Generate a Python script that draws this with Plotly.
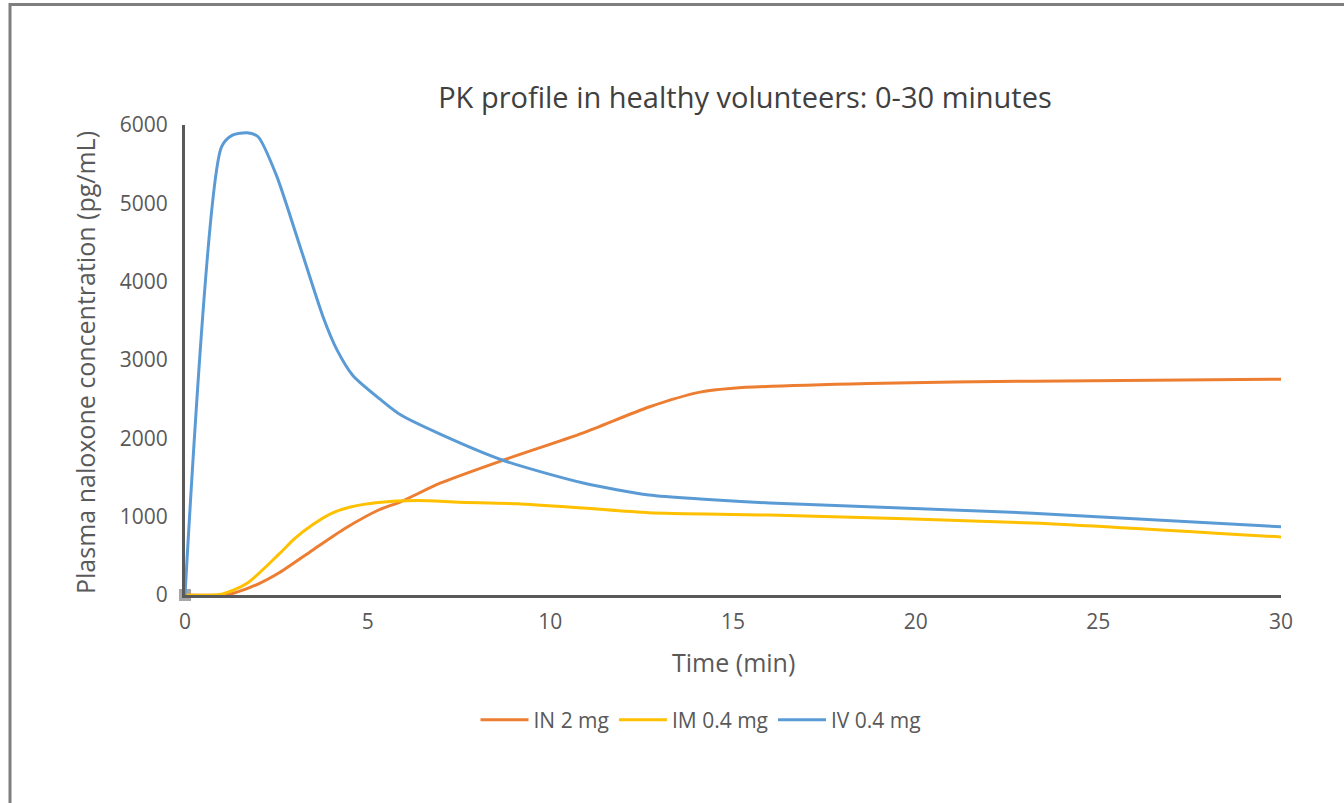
import plotly.graph_objects as go

# Data (time in minutes, concentration in pg/mL)
in_time = [0, 1, 1.3, 2, 2.6, 3.5, 4.4, 5.3, 5.9, 7, 8.7, 10.9, 12.7, 14.1, 15, 18.7, 23.2, 30]
in_conc = [0, 0, 20, 140, 290, 575, 855, 1085, 1190, 1430, 1720, 2070, 2400, 2590, 2640, 2700, 2730, 2755]

im_time = [0, 1, 1.7, 2.6, 3.0, 3.5, 4.0, 4.5, 5.3, 6.35, 7.5, 9.1, 10.9, 12.7, 16, 23.2, 30]
im_conc = [0, 10, 150, 535, 720, 900, 1040, 1120, 1180, 1205, 1185, 1165, 1110, 1050, 1020, 920, 740]

iv_time = [0, 1, 1.3, 1.7, 2.0, 2.5, 3.1, 3.78, 4.16, 4.6, 5.34, 5.9, 7, 8.7, 10.9, 12.7, 14.1, 16, 23.2, 30]
iv_conc = [0, 5720, 5870, 5900, 5850, 5360, 4520, 3550, 3130, 2800, 2500, 2300, 2050, 1720, 1430, 1277, 1225, 1175, 1045, 870]

series_names = ["IN 2 mg", "IM 0.4 mg", "IV 0.4 mg"]
series_colors = ["#ED7D31", "#FFC000", "#5B9BD5"]

x_ticks = [0, 5, 10, 15, 20, 25, 30]
y_ticks = [0, 1000, 2000, 3000, 4000, 5000, 6000]

font_family = "Open Sans, Lato, sans-serif"
text_color = "#595959"

W, H = 1344, 803
L, R, T, B = 185, 63, 125, 208
PW, PH = W - L - R, H - T - B


def px_x(p):
    return (p - L) / PW


def px_y(p):
    return (H - B - p) / PH


fig = go.Figure()

# small gray marker at the origin (drawn under the lines)
fig.add_trace(go.Scatter(
    x=[0], y=[0], mode="markers", showlegend=False, hoverinfo="skip", cliponaxis=False,
    marker=dict(symbol="square", size=12, color="#A6A6A6"),
))

for name, color, xs, ys in zip(series_names, series_colors,
                               [in_time, im_time, iv_time],
                               [in_conc, im_conc, iv_conc]):
    fig.add_trace(go.Scatter(
        x=xs, y=ys, name=name, mode="lines", cliponaxis=False,
        line=dict(color=color, width=3, shape="spline", smoothing=0.7),
    ))

fig.update_layout(
    width=W, height=H,
    paper_bgcolor="white", plot_bgcolor="white",
    margin=dict(l=L, r=R, t=T, b=B),
    font=dict(family=font_family, color=text_color, size=21),
    title=dict(
        text="PK profile in healthy volunteers: 0-30 minutes",
        x=745 / W, xanchor="center", y=1 - 98 / H, yanchor="middle",
        font=dict(size=29, color="#404040", family=font_family),
    ),
    legend=dict(
        orientation="h", x=px_x(701), xanchor="center", y=px_y(720), yanchor="middle",
        font=dict(size=21, color=text_color), itemwidth=48,
    ),
    showlegend=True,
)

fig.update_xaxes(
    range=[0, 30], tickvals=x_ticks, ticktext=[str(v) for v in x_ticks],
    showgrid=False, zeroline=False, showline=True, linecolor="#595959", linewidth=3,
    ticks="", tickfont=dict(size=21, color=text_color), ticklabelstandoff=6,
)
fig.update_yaxes(
    range=[0, 6000], tickvals=y_ticks, ticktext=[str(v) for v in y_ticks],
    showgrid=False, zeroline=False, showline=True, linecolor="#595959", linewidth=3,
    ticks="", tickfont=dict(size=21, color=text_color), ticklabelstandoff=10,
)

# axis titles
fig.add_annotation(text="Time (min)", xref="paper", yref="paper",
                   x=px_x(733), y=px_y(662), xanchor="center", yanchor="middle",
                   showarrow=False, font=dict(size=25, color=text_color))
fig.add_annotation(text="Plasma naloxone concentration (pg/mL)", xref="paper", yref="paper",
                   x=px_x(85), y=px_y(363), xanchor="center", yanchor="middle",
                   textangle=-90, showarrow=False, font=dict(size=25, color=text_color))

# outer frame (left and top border of the original image)
fig.add_shape(type="line", xref="paper", yref="paper",
              x0=px_x(10), x1=px_x(10), y0=px_y(3), y1=px_y(H),
              line=dict(color="#7F7F7F", width=3))
fig.add_shape(type="line", xref="paper", yref="paper",
              x0=px_x(9), x1=px_x(W), y0=px_y(4.5), y1=px_y(4.5),
              line=dict(color="#7F7F7F", width=3))

fig.write_html("out.html", config={"displayModeBar": False},
               post_script="document.body.style.margin='0';")
